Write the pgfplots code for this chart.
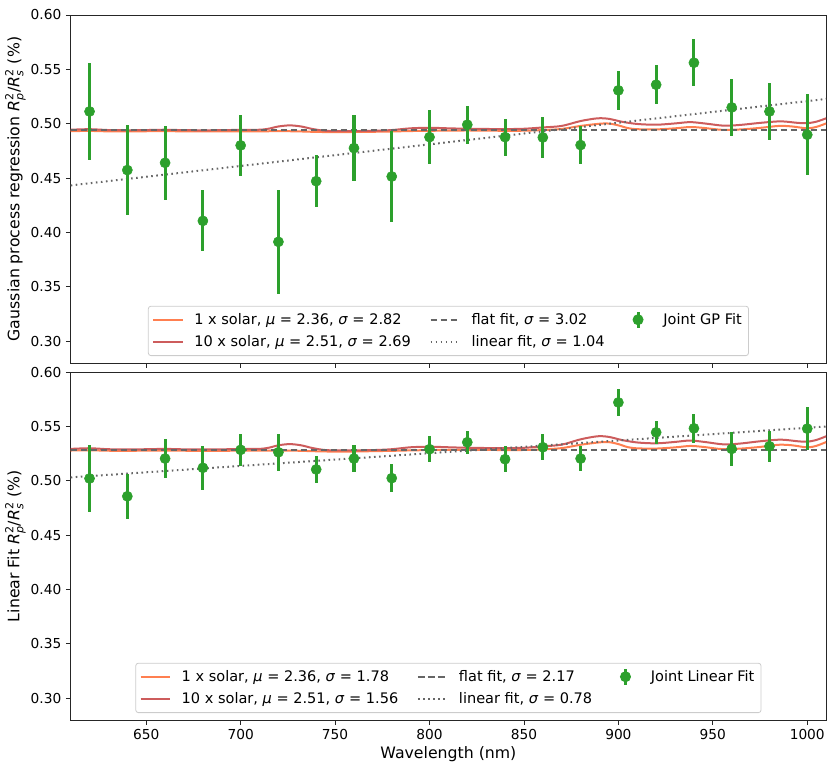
\documentclass[border=0pt]{standalone}
\usepackage{fontspec}
\setmainfont{DejaVu Sans}
\usepackage{pgfplots}
\usepackage{pgfplotstable}
\pgfplotsset{compat=1.18}
\definecolor{mygreen}{HTML}{2CA02C}
\definecolor{myorange}{HTML}{FF7F50}
\definecolor{myred}{HTML}{CD5C5C}

\pgfplotstableread{
x y e
620 0.5113 0.045
640 0.4574 0.041
660 0.4641 0.034
680 0.4107 0.028
700 0.4801 0.028
720 0.3914 0.048
740 0.4472 0.024
760 0.4776 0.030
780 0.4515 0.042
800 0.4877 0.025
820 0.4991 0.0175
840 0.4877 0.017
860 0.4874 0.019
880 0.4804 0.0175
900 0.5307 0.018
920 0.5359 0.018
940 0.5561 0.0215
960 0.5150 0.026
980 0.5113 0.026
1000 0.4899 0.037
}\topdata

\pgfplotstableread{
x y e
620 0.5021 0.031
640 0.4857 0.0205
660 0.5204 0.018
680 0.5119 0.020
700 0.5284 0.015
720 0.5262 0.017
740 0.5104 0.0125
760 0.5204 0.0125
780 0.5024 0.0127
800 0.5290 0.012
820 0.5354 0.0104
840 0.5198 0.012
860 0.5308 0.012
880 0.5204 0.0115
900 0.5720 0.012
920 0.5445 0.0107
940 0.5482 0.0136
960 0.5293 0.0154
980 0.5317 0.0145
1000 0.5479 0.020
}\botdata

\pgfplotstableread{
x y
610 0.4932
620 0.4934
630 0.4930
640 0.4929
650 0.4931
660 0.4932
670 0.4930
680 0.4929
690 0.4929
700 0.4931
710 0.4930
720 0.4932
730 0.4930
740 0.4925
750 0.4923
760 0.4924
770 0.4926
780 0.4929
790 0.4933
800 0.4935
810 0.4937
820 0.4938
830 0.4937
840 0.4935
850 0.4936
860 0.4942
870 0.4952
880 0.4980
890 0.5000
895 0.5002
900 0.4985
905 0.4960
910 0.4950
920 0.4948
930 0.4958
938 0.4970
945 0.4962
955 0.4944
965 0.4948
975 0.4962
985 0.4980
992 0.4975
1000 0.4958
1005 0.4972
1010 0.5003
}\topone

\pgfplotstableread{
x y
610 0.4945
620 0.4950
630 0.4942
640 0.4940
650 0.4942
660 0.4945
670 0.4941
680 0.4940
690 0.4941
700 0.4944
710 0.4945
715 0.4955
720 0.4975
726 0.4985
732 0.4975
738 0.4952
745 0.4935
755 0.4932
770 0.4935
780 0.4942
790 0.4958
800 0.4963
810 0.4958
820 0.4954
830 0.4952
840 0.4951
850 0.4954
860 0.4966
870 0.4980
880 0.5025
889 0.5050
895 0.5045
902 0.5018
910 0.4998
920 0.4991
930 0.5003
938 0.5015
946 0.5002
956 0.4982
965 0.4990
975 0.5008
986 0.5022
995 0.5008
1000 0.5005
1005 0.5020
1010 0.5050
}\topten

\pgfplotstableread{
x y
610 0.5278
620 0.5280
630 0.5276
640 0.5275
650 0.5277
660 0.5278
670 0.5276
680 0.5275
690 0.5275
700 0.5277
710 0.5276
720 0.5278
730 0.5276
740 0.5271
750 0.5268
760 0.5269
770 0.5272
780 0.5275
790 0.5279
800 0.5282
810 0.5284
820 0.5285
830 0.5284
840 0.5282
850 0.5283
860 0.5289
870 0.5300
880 0.5331
890 0.5353
895 0.5355
900 0.5337
905 0.5309
910 0.5298
920 0.5296
930 0.5307
938 0.5320
945 0.5311
955 0.5291
965 0.5296
975 0.5311
985 0.5331
992 0.5326
1000 0.5307
1005 0.5322
1010 0.5356
}\botone

\pgfplotstableread{
x y
610 0.5293
620 0.5299
630 0.5290
640 0.5288
650 0.5290
660 0.5293
670 0.5289
680 0.5288
690 0.5289
700 0.5292
710 0.5293
715 0.5304
720 0.5326
726 0.5337
732 0.5326
738 0.5301
745 0.5282
755 0.5279
770 0.5282
780 0.5290
790 0.5308
800 0.5313
810 0.5308
820 0.5303
830 0.5301
840 0.5300
850 0.5303
860 0.5316
870 0.5332
880 0.5381
889 0.5409
895 0.5403
902 0.5374
910 0.5352
920 0.5344
930 0.5357
938 0.5370
946 0.5356
956 0.5334
965 0.5343
975 0.5363
986 0.5378
995 0.5363
1000 0.5359
1005 0.5376
1010 0.5409
}\botten

\pgfplotsset{
  panel/.style={
    scale only axis, width=566.6pt, height=261pt,
    xmin=610, xmax=1010, ymin=0.28, ymax=0.60,
    xtick={650,700,750,800,850,900,950,1000},
    ytick={0.30,0.35,0.40,0.45,0.50,0.55,0.60},
    tick align=outside, tick pos=left, major tick length=3.5pt,
    axis line style={black!85, line width=0.6pt},
    tick style={black!85, line width=0.6pt},
    x tick label style={/pgf/number format/.cd, 1000 sep={}},
    y tick label style={/pgf/number format/.cd, fixed, fixed zerofill, precision=2},
    /pgf/number format/assume math mode=true,
    ticklabel style={font=\fontsize{10.3}{12}\selectfont},
    label style={font=\fontsize{11.8}{14}\selectfont},
    ylabel shift=-3pt,
    xlabel shift=-2pt,
    legend cell align=left,
    legend columns=3,
    legend style={at={(0.5,0.02)}, anchor=south, draw=black!20, rounded corners=2pt,
      fill=white, line width=0.6pt, inner xsep=3pt, inner ysep=3pt,
      font=\fontsize{10.9}{13}\selectfont, row sep=3pt,
      /tikz/every odd column/.append style={column sep=6pt},
      /tikz/every even column/.append style={column sep=12pt}},
  },
  lineleg/.style={legend image code/.code={\draw[##1] (0pt,0pt) -- (22pt,0pt);}},
  dataleg/.style={legend image code/.code={\path[draw=none] (0pt,0pt) -- (22pt,0pt);
      \draw[mygreen, line width=2.3pt] (11pt,-6pt) -- (11pt,6pt);
      \fill[mygreen] (11pt,0pt) circle (3.8pt);}},
  orangeline/.style={myorange, line width=1.5pt},
  redline/.style={myred, line width=1.5pt},
  flatline/.style={black!60, line width=1.5pt, dash pattern=on 5pt off 2.5pt},
  linline/.style={black!60, line width=1.5pt, dash pattern=on 1.2pt off 2.6pt},
  datapts/.style={only marks, mark=*, mark size=3.8pt, mygreen,
    mark options={draw=mygreen, fill=mygreen},
    error bars/.cd, y dir=both, y explicit, error mark=none,
    error bar style={line width=2.3pt, mygreen}},
}

\newcommand{\rr}{\textit{R}$^{\mbox{\fontsize{8.3}{8}\selectfont 2}}_{\mbox{\fontsize{8.3}{8}\selectfont\textit{p}}}$/\textit{R}$^{\mbox{\fontsize{8.3}{8}\selectfont 2}}_{\mbox{\fontsize{8.3}{8}\selectfont\textit{s}}}$}

\begin{document}
\begin{tikzpicture}
\begin{axis}[panel, at={(0pt,0pt)}, anchor=south west,
  xticklabels={},
  ylabel={Gaussian process regression \rr{} (\%)}]
  \addplot[orangeline, smooth, tension=0.5, forget plot] table[x=x,y=y] {\topone};
  \addplot[redline, smooth, tension=0.5, forget plot] table[x=x,y=y] {\topten};
  \addplot[flatline, forget plot] coordinates {(610,0.494) (1010,0.494)};
  \addplot[linline, forget plot] coordinates {(610,0.4433) (1010,0.5228)};
  \addplot[forget plot, datapts] table[x=x, y=y, y error=e] {\topdata};
  \addlegendimage{orangeline, lineleg}
  \addlegendentry{1 x solar, \textit{μ} = 2.36, \textit{σ} = 2.82}
  \addlegendimage{flatline, lineleg}
  \addlegendentry{flat fit, \textit{σ} = 3.02}
  \addlegendimage{dataleg}
  \addlegendentry{Joint GP Fit}
  \addlegendimage{redline, lineleg}
  \addlegendentry{10 x solar, \textit{μ} = 2.51, \textit{σ} = 2.69}
  \addlegendimage{linline, lineleg}
  \addlegendentry{linear fit, \textit{σ} = 1.04}
\end{axis}
\begin{axis}[panel, at={(0pt,-6.75pt)}, anchor=north west,
  xlabel={Wavelength (nm)},
  ylabel={Linear Fit \rr{} (\%)}]
  \addplot[orangeline, smooth, tension=0.5, forget plot] table[x=x,y=y] {\botone};
  \addplot[redline, smooth, tension=0.5, forget plot] table[x=x,y=y] {\botten};
  \addplot[flatline, forget plot] coordinates {(610,0.5286) (1010,0.5286)};
  \addplot[linline, forget plot] coordinates {(610,0.5031) (1010,0.5499)};
  \addplot[forget plot, datapts] table[x=x, y=y, y error=e] {\botdata};
  \addlegendimage{orangeline, lineleg}
  \addlegendentry{1 x solar, \textit{μ} = 2.36, \textit{σ} = 1.78}
  \addlegendimage{flatline, lineleg}
  \addlegendentry{flat fit, \textit{σ} = 2.17}
  \addlegendimage{dataleg}
  \addlegendentry{Joint Linear Fit}
  \addlegendimage{redline, lineleg}
  \addlegendentry{10 x solar, \textit{μ} = 2.51, \textit{σ} = 1.56}
  \addlegendimage{linline, lineleg}
  \addlegendentry{linear fit, \textit{σ} = 0.78}
\end{axis}
\pgfresetboundingbox
\useasboundingbox (-53.0pt,-303.0pt) rectangle (569.5pt,272.25pt);
\end{tikzpicture}
\end{document}
